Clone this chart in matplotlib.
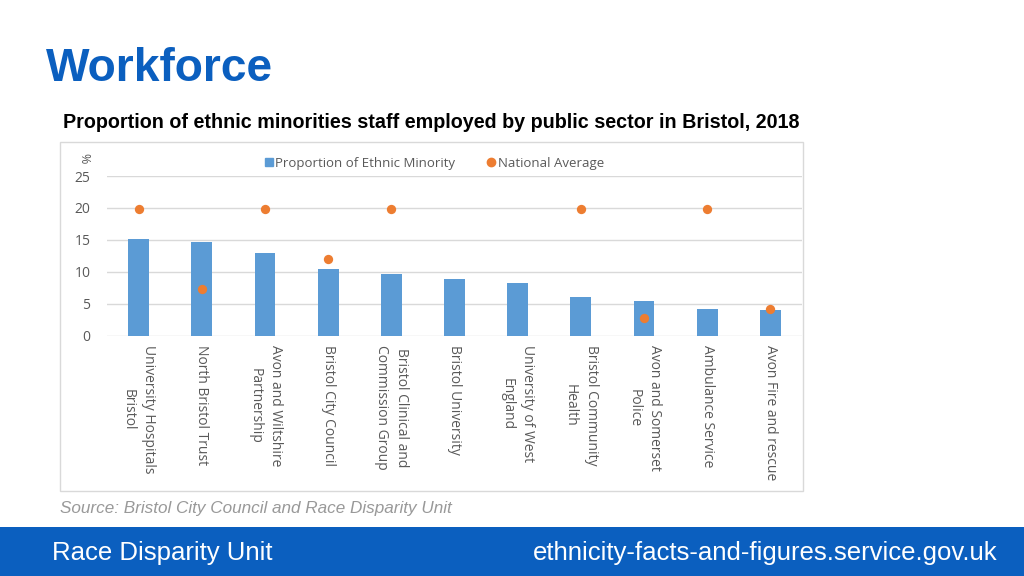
import numpy as np
import matplotlib
matplotlib.use("Agg")
import matplotlib.pyplot as plt
from matplotlib.patches import Rectangle
from matplotlib.lines import Line2D

categories = [
    "University Hospitals\nBristol",
    "North Bristol Trust",
    "Avon and Wiltshire\nPartnership",
    "Bristol City Council",
    "Bristol Clinical and\nCommission Group",
    "Bristol University",
    "University of West\nEngland",
    "Bristol Community\nHealth",
    "Avon and Somerset\nPolice",
    "Ambulance Service",
    "Avon Fire and rescue",
]
ethnic_minority = [15.1, 14.7, 12.9, 10.5, 9.7, 8.8, 8.2, 6.1, 5.4, 4.2, 4.0]
national_average = [19.8, 7.3, 19.8, 12.0, 19.8, np.nan, np.nan, 19.8, 2.8, 19.8, 4.1]
y_ticks = [0, 5, 10, 15, 20, 25]

W, H = 1024, 576
fig = plt.figure(figsize=(W / 100, H / 100), dpi=100)
fig.patch.set_facecolor("white")

BLUE_HDR = "#0B5FBF"
BAR = "#5B9BD5"
ORANGE = "#ED7D31"
GRAY_TXT = "#595959"
GRID = "#D9D9D9"

def fx(px):
    return px / W

def fy(py):
    return 1 - py / H

# chart box
fig.add_artist(Rectangle((fx(60), fy(491)), fx(803) - fx(60), fy(142) - fy(491),
                         transform=fig.transFigure, facecolor="white",
                         edgecolor=GRID, linewidth=1.0, zorder=0))

# footer band
fig.add_artist(Rectangle((0, 0), 1, fy(527), transform=fig.transFigure,
                         facecolor=BLUE_HDR, edgecolor="none", zorder=0))

# titles
fig.text(fx(46), fy(69), "Workforce", fontsize=33.2, fontweight="bold",
         color=BLUE_HDR, family="Liberation Sans", va="center", ha="left")
fig.text(fx(63), fy(123), "Proportion of ethnic minorities staff employed by public sector in Bristol, 2018",
         fontsize=14.2, fontweight="bold", color="black", family="Liberation Sans",
         va="center", ha="left")
fig.text(fx(60), fy(508), "Source: Bristol City Council and Race Disparity Unit",
         fontsize=12.3, style="italic", color="#999999", family="Liberation Sans",
         va="center", ha="left")
fig.text(fx(52), fy(553), "Race Disparity Unit", fontsize=18.5, color="white",
         family="Liberation Sans", va="center", ha="left")
fig.text(fx(997), fy(553), "ethnicity-facts-and-figures.service.gov.uk", fontsize=18.5,
         color="white", family="Liberation Sans", va="center", ha="right")

# axes
ax_left, ax_right = 107, 802
ax_top, ax_bot = 176, 335.5
ax = fig.add_axes([fx(ax_left), fy(ax_bot), fx(ax_right) - fx(ax_left), fy(ax_top) - fy(ax_bot)])
ax.set_facecolor("none")
x = np.arange(len(categories))
ax.bar(x, ethnic_minority, width=0.33, color=BAR, zorder=2)
ax.scatter(x, national_average, s=45, color=ORANGE, zorder=3, linewidths=0)
ax.set_xlim(-0.5, len(categories) - 0.5)
ax.set_ylim(0, 25)
ax.set_yticks(y_ticks)
ax.yaxis.grid(True, color=GRID, linewidth=1.0, zorder=0)
ax.set_axisbelow(True)
for s in ax.spines.values():
    s.set_visible(False)
ax.tick_params(axis="both", length=0, colors=GRAY_TXT, labelsize=10)
ax.tick_params(axis="y", pad=12)
ax.set_xticks(x)
ax.set_xticklabels(categories, rotation=270, ha="center", va="top",
                   multialignment="center", family="Open Sans", fontsize=10,
                   color=GRAY_TXT, linespacing=1.5)
ax.tick_params(axis="x", pad=7)
for lbl in ax.get_yticklabels():
    lbl.set_family("Open Sans")

fig.text(fx(84), fy(158), "%", rotation=270, fontsize=9, color=GRAY_TXT,
         family="Open Sans", ha="center", va="center")

handles = [
    Line2D([], [], marker="s", linestyle="none", color=BAR, markersize=6),
    Line2D([], [], marker="o", linestyle="none", color=ORANGE, markersize=6),
]
fig.legend(handles, ["Proportion of Ethnic Minority", "National Average"],
           loc="center", bbox_to_anchor=(fx(433), fy(163)), ncol=2, frameon=False,
           handletextpad=0.0, columnspacing=2.2, handlelength=1.0,
           prop={"family": "Open Sans", "size": 9.5}, labelcolor=GRAY_TXT)

fig.savefig("out.png", dpi=100)
